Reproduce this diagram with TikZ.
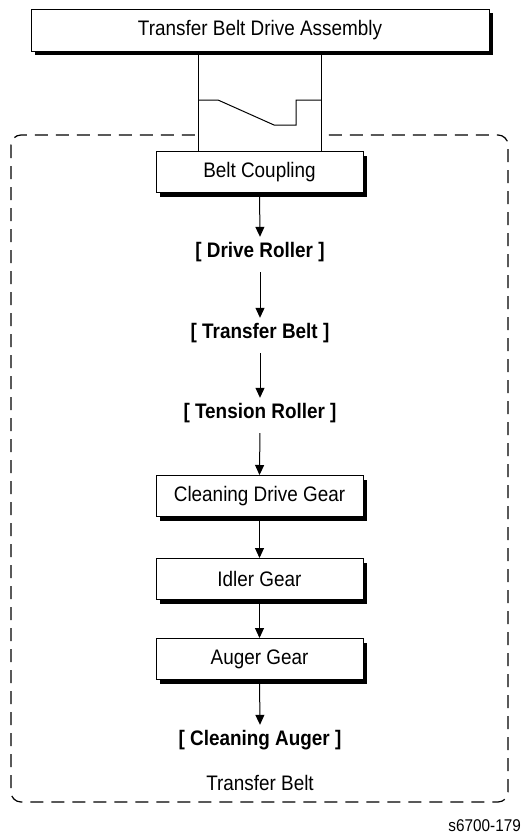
\documentclass[tikz,border=0pt]{standalone}
\usepackage{fontspec}
\setmainfont[FakeStretch=0.9]{Liberation Sans}
\usetikzlibrary{shadows,arrows.meta}
\begin{document}
\begin{tikzpicture}[x=1pt,y=-1pt,
  box/.style={draw,line width=1pt,fill=white,minimum width=207pt,minimum height=41pt,inner sep=0pt,font=\fontsize{21}{24}\selectfont,
    drop shadow={shadow xshift=4pt,shadow yshift=-4pt,fill=black,opacity=1}},
  lbl/.style={inner sep=0pt,minimum height=30pt,font=\fontsize{21}{24}\selectfont\bfseries},
  arr/.style={line width=1pt,-{Triangle[length=10pt,width=9pt]}},
  belt/.style={draw,line width=1.2pt,dash pattern=on 13pt off 8pt,rounded corners=10pt}]
\useasboundingbox (0,0) rectangle (522,838);
% dashed boundary
\draw[belt] (11,135) rectangle (508,802);
% coupling housing
\draw[line width=1pt,fill=white] (198,51) rectangle (321,152);
\draw[line width=1pt] (198,100) -- (218,100) -- (274,125) -- (296,125) -- (296,100) -- (321,100);
% top box
\node[box,minimum width=458pt,minimum height=42pt] (tbda) at (260,30) {Transfer Belt Drive Assembly};
\node[box] (bc) at (259.5,172) {Belt Coupling};
\node[lbl] (dr) at (260,252) {[ Drive Roller ]};
\node[lbl] (tb) at (260,333) {[ Transfer Belt ]};
\node[lbl] (tr) at (260,413) {[ Tension Roller ]};
\node[box] (cdg) at (259.5,496) {Cleaning Drive Gear};
\node[box] (ig) at (259.5,579) {Idler Gear};
\node[box] (ag) at (259.5,659) {Auger Gear};
\node[lbl] (ca) at (260,740) {[ Cleaning Auger ]};
\node[inner sep=0pt,font=\fontsize{21}{24}\selectfont] (beltlbl) at (260,783) {Transfer Belt};
\node[inner sep=0pt,anchor=east,font=\fontsize{17}{20}\selectfont] (fig) at (521,826) {s6700-179};
% connectors
\draw[arr] (bc.south) -- (dr.north);
\draw[arr,shorten <=5pt] (dr.south) -- (tb.north);
\draw[arr,shorten <=5pt] (tb.south) -- (tr.north);
\draw[arr,shorten <=5pt] (tr.south) -- (cdg.north);
\draw[arr] (cdg.south) -- (ig.north);
\draw[arr] (ig.south) -- (ag.north);
\draw[arr] (ag.south) -- (ca.north);
\end{tikzpicture}
\end{document}
